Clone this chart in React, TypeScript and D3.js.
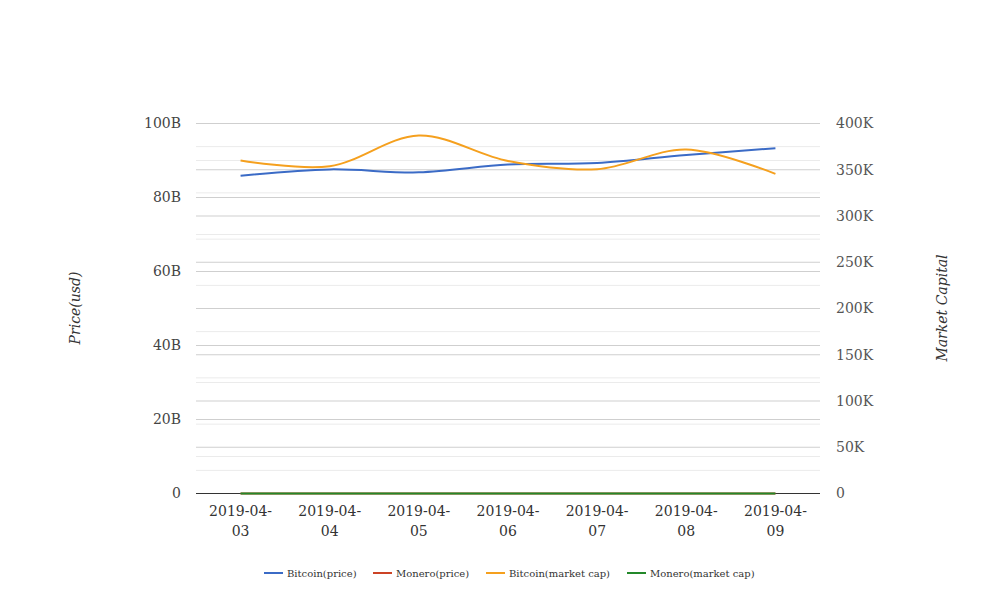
import React from 'react';
import * as d3 from 'd3';

const dates = ['2019-04-03', '2019-04-04', '2019-04-05', '2019-04-06', '2019-04-07', '2019-04-08', '2019-04-09'];
// left axis (price, usd)
const bitcoinPrice = [85.9e9, 87.6e9, 86.8e9, 88.9e9, 89.3e9, 91.5e9, 93.3e9];
const moneroPrice = [66, 67, 69, 70, 70, 71, 71];
// right axis (market capital)
const bitcoinCap = [360.0e3, 353.8e3, 387.0e3, 359.5e3, 350.6e3, 371.9e3, 345.6e3];
const moneroCap = [60, 61, 63, 64, 64, 65, 65];

const leftTicks = [0, 20e9, 40e9, 60e9, 80e9, 100e9];
const leftMinor = [10e9, 30e9, 50e9, 70e9, 90e9];
const rightTicks = [0, 50e3, 100e3, 150e3, 200e3, 250e3, 300e3, 350e3, 400e3];
const rightMinor = [25e3, 75e3, 125e3, 175e3, 225e3, 275e3, 325e3, 375e3];

const legendItems = [
  { name: 'Bitcoin(price)', color: '#3b6bc6' },
  { name: 'Monero(price)', color: '#cc4325' },
  { name: 'Bitcoin(market cap)', color: '#f5a01e' },
  { name: 'Monero(market cap)', color: '#23882a' },
];

const W = 1008;
const H = 616;
const margin = { top: 123.5, right: 188, bottom: 122.5, left: 196 };
const font = '"DejaVu Serif", serif';

const fmtLeft = (v: number) => (v === 0 ? '0' : `${v / 1e9}B`);
const fmtRight = (v: number) => (v === 0 ? '0' : `${v / 1e3}K`);

export default function App() {
  const x = d3.scaleBand<string>().domain(dates).range([margin.left, W - margin.right]);
  const yL = d3.scaleLinear().domain([0, 100e9]).range([H - margin.bottom, margin.top]);
  const yR = d3.scaleLinear().domain([0, 400e3]).range([H - margin.bottom, margin.top]);
  const cx = (d: string) => (x(d) ?? 0) + x.bandwidth() / 2;

  const lineFor = (scale: d3.ScaleLinear<number, number>) =>
    d3.line<number>()
      .x((_, i) => cx(dates[i]))
      .y(v => scale(v))
      .curve(d3.curveCatmullRom.alpha(0.5));

  const x0 = margin.left;
  const x1 = W - margin.right;

  const series = [
    { values: moneroPrice, scale: yL, color: legendItems[1].color },
    { values: bitcoinPrice, scale: yL, color: legendItems[0].color },
    { values: bitcoinCap, scale: yR, color: legendItems[2].color },
    { values: moneroCap, scale: yR, color: legendItems[3].color },
  ];

  const legendX = [264, 373, 486, 627];

  return (
    <svg width={W} height={H} style={{ position: 'absolute', left: 0, top: 0, background: '#fff' }}>
      {leftMinor.map(v => (
        <line key={'lm' + v} x1={x0} x2={x1} y1={yL(v)} y2={yL(v)} stroke="#ebebeb" />
      ))}
      {rightMinor.map(v => (
        <line key={'rm' + v} x1={x0} x2={x1} y1={yR(v)} y2={yR(v)} stroke="#ebebeb" />
      ))}
      {leftTicks.slice(1).map(v => (
        <line key={'lg' + v} x1={x0} x2={x1} y1={yL(v)} y2={yL(v)} stroke="#cfcfcf" />
      ))}
      {rightTicks.slice(1).map(v => (
        <line key={'rg' + v} x1={x0} x2={x1} y1={yR(v)} y2={yR(v)} stroke="#cfcfcf" />
      ))}
      <line x1={x0} x2={x1} y1={yL(0)} y2={yL(0)} stroke="#333" />

      {leftTicks.map(v => (
        <text key={'lt' + v} x={181} y={yL(v)} dy="0.35em" textAnchor="end" fontFamily={font} fontSize={14} fill="#444">
          {fmtLeft(v)}
        </text>
      ))}
      {rightTicks.map(v => (
        <text key={'rt' + v} x={836} y={yR(v)} dy="0.35em" textAnchor="start" fontFamily={font} fontSize={14} fill="#555">
          {fmtRight(v)}
        </text>
      ))}
      {dates.map(d => {
        const parts = [d.slice(0, 8), d.slice(8)];
        return (
          <text key={d} x={cx(d)} y={516} textAnchor="middle" fontFamily={font} fontSize={14} fill="#333">
            <tspan x={cx(d)} dy="0">{parts[0]}</tspan>
            <tspan x={cx(d)} dy="20">{parts[1]}</tspan>
          </text>
        );
      })}

      <text transform="translate(80,308) rotate(-90)" textAnchor="middle" fontFamily={font} fontStyle="italic" fontSize={14} fill="#333">
        Price(usd)
      </text>
      <text transform="translate(947,308) rotate(-90)" textAnchor="middle" fontFamily={font} fontStyle="italic" fontSize={14} fill="#333">
        Market Capital
      </text>

      {series.map((s, i) => (
        <path key={i} d={lineFor(s.scale)(s.values) ?? ''} fill="none" stroke={s.color} strokeWidth={2} />
      ))}

      {legendItems.map((item, i) => (
        <g key={item.name} transform={`translate(${legendX[i]},573)`}>
          <line x1={0} x2={19} y1={0} y2={0} stroke={item.color} strokeWidth={2} />
          <text x={23} y={0} dy="0.35em" fontFamily={font} fontSize={10} fill="#333">
            {item.name}
          </text>
        </g>
      ))}
    </svg>
  );
}
